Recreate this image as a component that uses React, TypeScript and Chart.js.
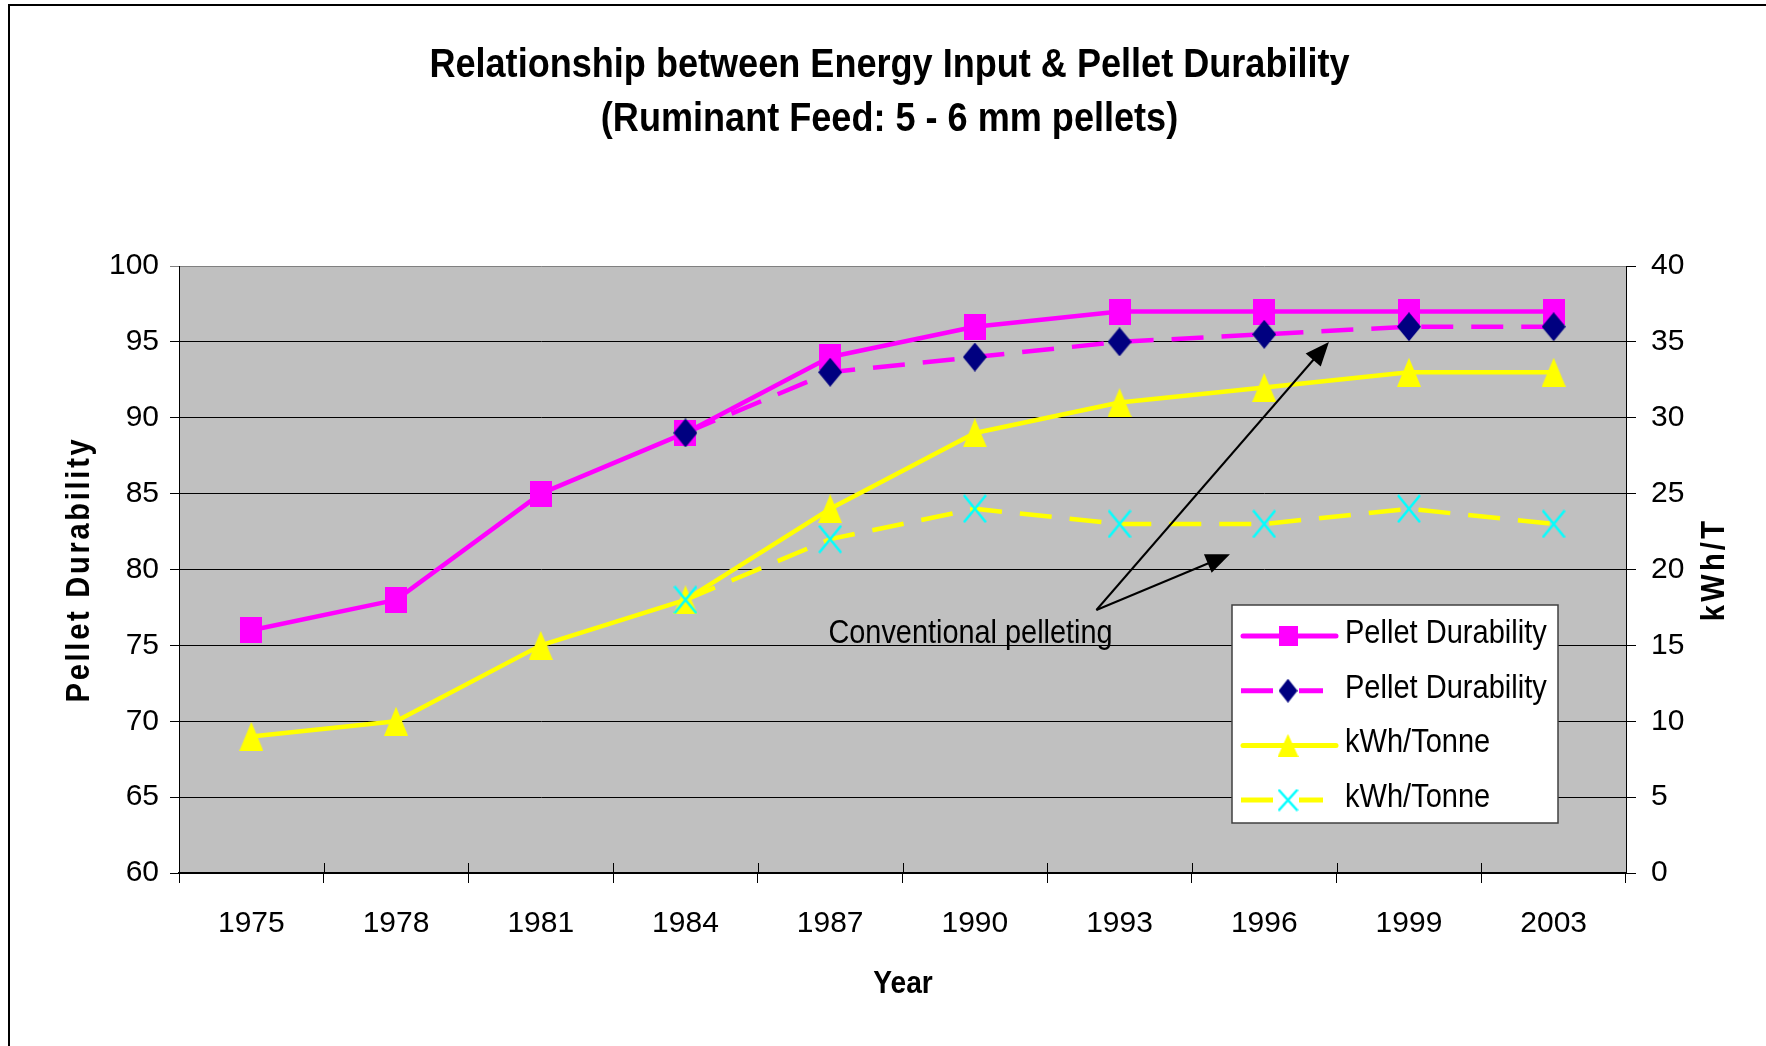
import React, { useEffect, useRef } from 'react';
import { Chart, registerables } from 'chart.js';

Chart.register(...registerables);

// ---------- data ----------
const YEARS = ['1975', '1978', '1981', '1984', '1987', '1990', '1993', '1996', '1999', '2003'];
const DURABILITY = [76, 78, 85, 89, 94, 96, 97, 97, 97, 97];
const DURABILITY_CONVENTIONAL = [null, null, null, 89, 93, 94, 95, 95.5, 96, 96];
const KWH_TONNE = [9, 10, 15, 18, 24, 29, 31, 32, 33, 33];
const KWH_TONNE_CONVENTIONAL = [null, null, null, 18, 22, 24, 23, 23, 24, 23];

const LEFT_AXIS = { min: 60, max: 100, step: 5 };
const RIGHT_AXIS = { min: 0, max: 40, step: 5 };

const SERIES_LABELS = ['Pellet Durability', 'Pellet Durability', 'kWh/Tonne', 'kWh/Tonne'];
const TITLE_LINES = ['Relationship between Energy Input & Pellet Durability', '(Ruminant Feed: 5 - 6 mm pellets)'];
const X_TITLE = 'Year';
const Y_TITLE = 'Pellet Durability';
const Y1_TITLE = 'kWh/T';
const NOTE_TEXT = 'Conventional pelleting';
// annotation anchors in data space: [category index, left-axis value]
const NOTE_AT = [4.97, 75.16];
const NOTE_TAIL = [5.84, 77.33];
const NOTE_HEADS = [[7.447, 95.0], [6.763, 81.0]];

// ---------- styles ----------
const W = 1766;
const H = 1046;
const MAGENTA = '#FF00FF';
const NAVY = '#000080';
const YELLOW = '#FFFF00';
const CYAN = '#00FFFF';
const PLOT_BG = '#C0C0C0';
const SANS = "'Liberation Sans', Arial, Helvetica, sans-serif";
const SX = 0.88;

function hasFont(name: string) {
  const c = document.createElement('canvas').getContext('2d')!;
  const s = 'abcdefghijklmnopqrstuvwxyz 0123456789';
  c.font = '40px monospace';
  const a = c.measureText(s).width;
  c.font = `40px "${name}", monospace`;
  const b = c.measureText(s).width;
  return Math.abs(a - b) > 0.5;
}

function makeMarker(kind: string, w: number, h: number) {
  const c = document.createElement('canvas');
  c.width = w;
  c.height = h;
  const g = c.getContext('2d')!;
  if (kind === 'square') {
    g.fillStyle = MAGENTA;
    g.fillRect(0, 0, w, h);
  } else if (kind === 'diamond') {
    g.fillStyle = NAVY;
    g.beginPath();
    g.moveTo(w / 2, 0);
    g.lineTo(w, h / 2);
    g.lineTo(w / 2, h);
    g.lineTo(0, h / 2);
    g.closePath();
    g.fill();
  } else if (kind === 'triangle') {
    g.fillStyle = YELLOW;
    g.beginPath();
    g.moveTo(w / 2, 0);
    g.lineTo(w, h);
    g.lineTo(0, h);
    g.closePath();
    g.fill();
  } else {
    g.strokeStyle = CYAN;
    g.lineWidth = 2.5;
    g.beginPath();
    g.moveTo(1, 1);
    g.lineTo(w - 1, h - 1);
    g.moveTo(w - 1, 1);
    g.lineTo(1, h - 1);
    g.stroke();
  }
  return c;
}

function drawText(
  ctx: CanvasRenderingContext2D,
  text: string,
  x: number,
  y: number,
  font: string,
  opts: { sx?: number; align?: CanvasTextAlign; rotate?: number; spacing?: number } = {}
) {
  ctx.save();
  ctx.translate(x, y);
  if (opts.rotate) ctx.rotate(opts.rotate);
  ctx.scale(opts.sx ?? SX, 1);
  ctx.font = font;
  (ctx as any).letterSpacing = (opts.spacing ?? 0) + 'px';
  ctx.textAlign = opts.align ?? 'center';
  ctx.textBaseline = 'alphabetic';
  ctx.fillStyle = '#000';
  ctx.fillText(text, 0, 0);
  ctx.restore();
}

export default function App() {
  const ref = useRef<HTMLCanvasElement>(null);

  useEffect(() => {
    const canvas = ref.current;
    if (!canvas) return;
    const narrow = hasFont('Liberation Sans Narrow');
    const tickFont = narrow
      ? { family: "'Liberation Sans Narrow', 'Liberation Sans', Arial, sans-serif", size: 33 }
      : { family: SANS, size: 30 };

    const big = { square: makeMarker('square', 22, 26), diamond: makeMarker('diamond', 24, 29), triangle: makeMarker('triangle', 24, 29), cross: makeMarker('cross', 24, 29) };
    const small = { square: makeMarker('square', 19, 20), diamond: makeMarker('diamond', 19, 24), triangle: makeMarker('triangle', 21, 23), cross: makeMarker('cross', 21, 23) };

    const legendItems = [
      { color: MAGENTA, dashed: false, marker: small.square },
      { color: MAGENTA, dashed: true, marker: small.diamond },
      { color: YELLOW, dashed: false, marker: small.triangle },
      { color: YELLOW, dashed: true, marker: small.cross },
    ];

    const decor = {
      id: 'decor',
      beforeDraw(chart: any) {
        const { ctx, chartArea: a } = chart;
        ctx.save();
        ctx.fillStyle = '#fff';
        ctx.fillRect(0, 0, W, H);
        ctx.strokeStyle = '#000';
        ctx.lineWidth = 2;
        ctx.beginPath();
        ctx.moveTo(9, H);
        ctx.lineTo(9, 5);
        ctx.lineTo(W, 5);
        ctx.stroke();
        ctx.fillStyle = PLOT_BG;
        ctx.fillRect(a.left, a.top, a.right - a.left, a.bottom - a.top);
        ctx.restore();
      },
      afterDatasetsDraw(chart: any) {
        const { ctx } = chart;
        const xs = chart.scales.x;
        const ys = chart.scales.y;
        const P = (p: number[]) => [xs.getPixelForValue(p[0]), ys.getPixelForValue(p[1])];
        const [tx, ty] = P(NOTE_TAIL);
        ctx.save();
        ctx.strokeStyle = '#000';
        ctx.fillStyle = '#000';
        ctx.lineWidth = 2;
        NOTE_HEADS.forEach((h) => {
          const [hx, hy] = P(h);
          const ang = Math.atan2(hy - ty, hx - tx);
          const len = 24;
          const half = 10;
          const bx = hx - Math.cos(ang) * len;
          const by = hy - Math.sin(ang) * len;
          ctx.beginPath();
          ctx.moveTo(tx, ty);
          ctx.lineTo(bx + Math.cos(ang) * 2, by + Math.sin(ang) * 2);
          ctx.stroke();
          ctx.beginPath();
          ctx.moveTo(hx, hy);
          ctx.lineTo(bx - Math.sin(ang) * half, by + Math.cos(ang) * half);
          ctx.lineTo(bx + Math.sin(ang) * half, by - Math.cos(ang) * half);
          ctx.closePath();
          ctx.fill();
        });
        ctx.restore();
        const [nx, ny] = P(NOTE_AT);
        drawText(ctx, NOTE_TEXT, nx, ny, `33px ${SANS}`, { sx: 0.875 });
      },
      afterDraw(chart: any) {
        const { ctx, chartArea: a } = chart;
        const xs = chart.scales.x;
        // inner half of the x-axis cross tick marks
        ctx.save();
        ctx.strokeStyle = '#000';
        ctx.lineWidth = 1;
        for (let i = 0; i <= YEARS.length; i++) {
          const px = Math.round(xs.getPixelForValue(i - 0.5)) + 0.5;
          ctx.beginPath();
          ctx.moveTo(px, a.bottom - 10);
          ctx.lineTo(px, a.bottom);
          ctx.stroke();
        }
        ctx.restore();

        // titles
        const cx = (a.left + a.right) / 2 - 13;
        drawText(ctx, TITLE_LINES[0], cx, 77, `bold 41px ${SANS}`);
        drawText(ctx, TITLE_LINES[1], cx, 131, `bold 41px ${SANS}`);
        drawText(ctx, X_TITLE, 903, 993, `bold 32px ${SANS}`);
        const midY = (a.top + a.bottom) / 2;
        drawText(ctx, Y_TITLE, 89, midY, `bold 33px ${SANS}`, { rotate: -Math.PI / 2, spacing: 3.1 });
        drawText(ctx, Y1_TITLE, 1724, midY, `bold 33px ${SANS}`, { rotate: -Math.PI / 2, spacing: 3.7 });

        // legend
        const lx = a.right - 394;
        const ly = a.top + 339;
        ctx.save();
        ctx.fillStyle = '#fff';
        ctx.fillRect(lx, ly, 326, 218);
        ctx.strokeStyle = '#404040';
        ctx.lineWidth = 1.5;
        ctx.strokeRect(lx, ly, 326, 218);
        legendItems.forEach((it, i) => {
          const ry = ly + 31 + i * 54.7;
          ctx.save();
          ctx.strokeStyle = it.color;
          ctx.lineWidth = 5;
          if (it.dashed) {
            ctx.lineCap = 'butt';
            ctx.setLineDash([32, 26]);
            ctx.beginPath();
            ctx.moveTo(lx + 9, ry);
            ctx.lineTo(lx + 91, ry);
            ctx.stroke();
          } else {
            ctx.lineCap = 'round';
            ctx.beginPath();
            ctx.moveTo(lx + 11, ry);
            ctx.lineTo(lx + 104, ry);
            ctx.stroke();
          }
          ctx.restore();
          const m = it.marker;
          ctx.drawImage(m, lx + 56 - m.width / 2, ry - m.height / 2);
          drawText(ctx, SERIES_LABELS[i], lx + 113, ry + 7, `33px ${SANS}`, { align: 'left' });
        });
        ctx.restore();
      },
    };

    const chart = new Chart(canvas, {
      type: 'line',
      data: {
        labels: YEARS,
        datasets: [
          {
            label: SERIES_LABELS[0],
            data: DURABILITY,
            yAxisID: 'y',
            borderColor: MAGENTA,
            borderWidth: 4.5,
            pointStyle: big.square as any,
            pointRadius: 10,
            order: 4,
          },
          {
            label: SERIES_LABELS[1],
            data: DURABILITY_CONVENTIONAL,
            yAxisID: 'y',
            borderColor: MAGENTA,
            borderWidth: 4.5,
            borderDash: [32, 18],
            pointStyle: big.diamond as any,
            pointRadius: 10,
            order: 3,
          },
          {
            label: SERIES_LABELS[2],
            data: KWH_TONNE,
            yAxisID: 'y1',
            borderColor: YELLOW,
            borderWidth: 4.5,
            pointStyle: big.triangle as any,
            pointRadius: 10,
            order: 2,
          },
          {
            label: SERIES_LABELS[3],
            data: KWH_TONNE_CONVENTIONAL,
            yAxisID: 'y1',
            borderColor: YELLOW,
            borderWidth: 4.5,
            borderDash: [32, 18],
            pointStyle: big.cross as any,
            pointRadius: 10,
            order: 1,
          },
        ],
      },
      options: {
        responsive: false,
        animation: false,
        devicePixelRatio: 1,
        layout: { padding: { top: 266, left: 0, right: 0, bottom: 0 } },
        elements: { line: { tension: 0, borderJoinStyle: 'round' } },
        plugins: {
          legend: { display: false },
          title: { display: false },
          tooltip: { enabled: false },
        },
        scales: {
          x: {
            type: 'category',
            offset: true,
            grid: { offset: true, drawOnChartArea: false, tickLength: 10, color: '#000', lineWidth: 1 },
            border: { color: '#000', width: 2 },
            ticks: { font: tickFont, color: '#000', padding: 23, maxRotation: 0, autoSkip: false },
            afterFit: (s: any) => {
              s.height = H - 873;
            },
          },
          y: {
            position: 'left',
            min: LEFT_AXIS.min,
            max: LEFT_AXIS.max,
            ticks: { stepSize: LEFT_AXIS.step, font: tickFont, color: '#000', padding: 11 },
            grid: {
              color: (c: any) => (c.tick && c.tick.value === LEFT_AXIS.max ? '#808080' : '#000'),
              lineWidth: 1,
              tickLength: 9,
            },
            border: { color: '#000', width: 1 },
            afterFit: (s: any) => {
              s.width = 179;
            },
          },
          y1: {
            position: 'right',
            min: RIGHT_AXIS.min,
            max: RIGHT_AXIS.max,
            ticks: { stepSize: RIGHT_AXIS.step, font: tickFont, color: '#000', padding: 15 },
            grid: { drawOnChartArea: false, color: '#000', lineWidth: 1, tickLength: 10 },
            border: { color: '#000', width: 1 },
            afterFit: (s: any) => {
              s.width = W - 1626;
            },
          },
        },
      },
      plugins: [decor],
    } as any);

    return () => chart.destroy();
  }, []);

  return (
    <div style={{ position: 'fixed', left: 0, top: 0, width: W, height: H, background: '#fff' }}>
      <canvas ref={ref} width={W} height={H} style={{ display: 'block', width: W, height: H }} />
    </div>
  );
}
